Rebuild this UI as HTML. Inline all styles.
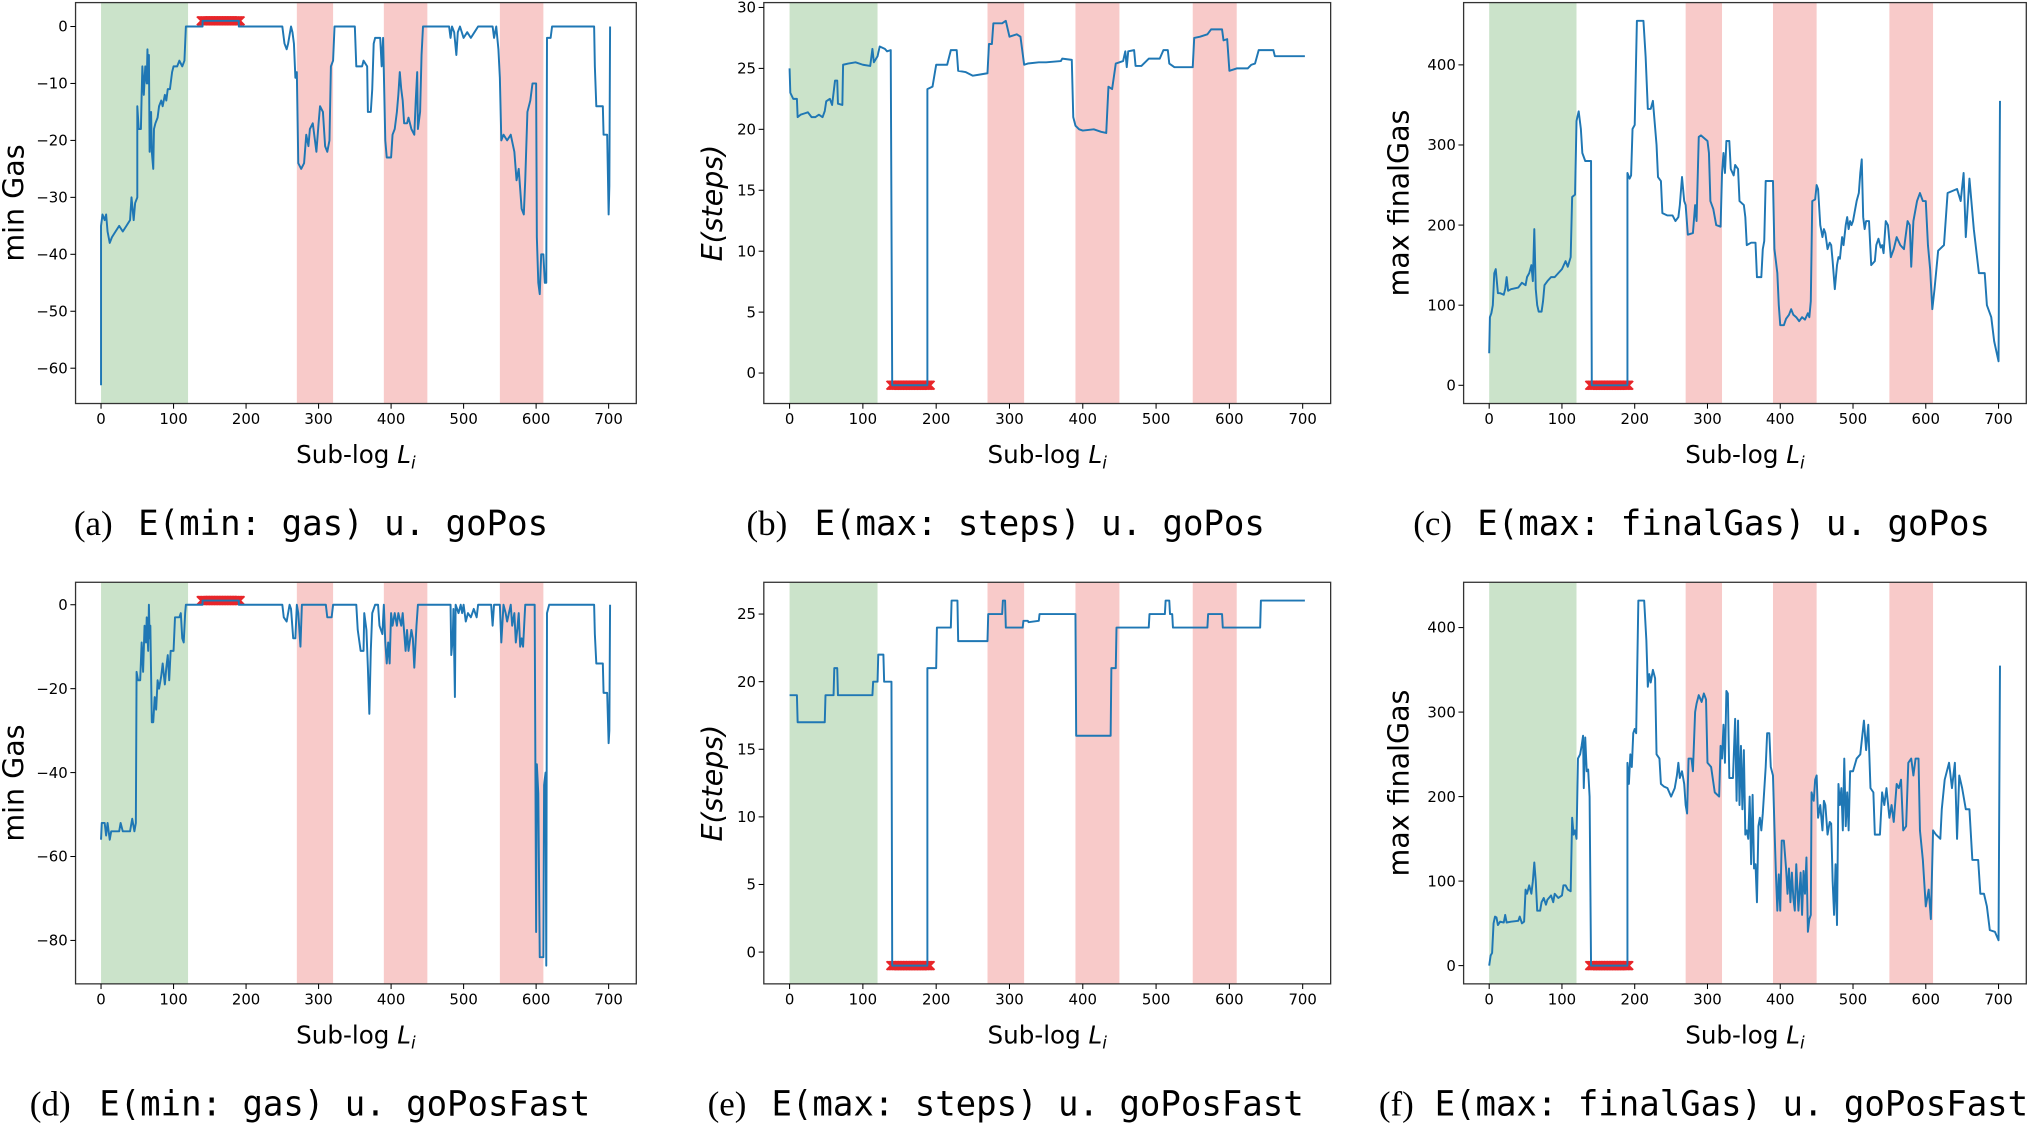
<!DOCTYPE html>
<html>
<head>
<meta charset="utf-8">
<style>
html,body{margin:0;padding:0;background:#fff;}
svg{display:block;}
.tick{font-family:"DejaVu Sans","Liberation Sans",sans-serif;font-size:11.5px;fill:#000;}
.axlab{font-family:"DejaVu Sans","Liberation Sans",sans-serif;font-size:19px;fill:#000;}
.ylab{font-family:"DejaVu Sans","Liberation Sans",sans-serif;font-size:22px;fill:#000;}
.capser{font-family:"Liberation Serif","DejaVu Serif",serif;font-size:27px;fill:#000;}
.capmono{font-family:"DejaVu Sans Mono","Liberation Mono",monospace;font-size:27px;fill:#000;}
</style>
</head>
<body>
<svg id="fig" width="2032" height="1127" viewBox="0 0 1568 870" preserveAspectRatio="none" xmlns="http://www.w3.org/2000/svg"></svg>
<script>
// ---------- data ----------
const xTicks = [0,100,200,300,400,500,600,700];
const greenSpan = [0,120];
const redSpans = [[270,320],[390,450],[550,610]];
const failRange = [140,190];

const minGasGoPos = [[0,-63],[0,-35],[2,-33],[5,-34],[7,-33],[9,-36],[12,-38],[15,-37],[20,-36],[25,-35],[30,-36],[35,-35],[40,-34],[42,-30],[45,-34],[47,-31],[50,-30],[50,-14],[52,-18],[55,-18],[56,-12],[57,-7],[59,-12],[61,-7],[63,-10],[64,-4],[65,-10],[66,-5],[67,-22],[69,-15],[70,-22],[72,-25],[73,-18],[75,-17],[78,-16],[80,-14],[83,-13],[85,-14],[88,-12],[90,-13],[92,-11],[95,-11],[98,-8],[100,-7],[105,-7],[108,-6],[112,-7],[115,-6],[117,0],[140,0],[140,1],[190,1],[190,0],[250,0],[253,-3],[256,-4],[258,-3],[262,0],[264,-1],[266,-3],[268,-9],[270,-8],[272,-24],[276,-25],[280,-24],[283,-19],[286,-21],[288,-18],[292,-17],[295,-20],[297,-22],[300,-17],[302,-14],[306,-15],[309,-21],[312,-22],[315,-20],[317,-7],[320,-6],[322,0],[350,0],[352,-7],[360,-7],[362,-6],[367,-7],[368,-15],[372,-15],[374,-11],[376,-3],[378,-2],[385,-2],[387,-7],[389,-2],[392,-20],[394,-23],[400,-23],[402,-19],[405,-18],[408,-15],[410,-12],[412,-8],[414,-11],[416,-13],[418,-17],[422,-17],[424,-16],[428,-18],[432,-19],[434,-13],[436,-8],[437,-18],[440,-15],[442,-5],[444,0],[480,0],[482,-2],[484,0],[487,-1],[490,-5],[492,-1],[495,0],[500,-2],[505,-1],[510,-2],[515,-1],[520,0],[540,0],[542,-2],[545,0],[548,-4],[550,-9],[552,-20],[555,-19],[560,-20],[565,-19],[570,-22],[573,-27],[576,-25],[580,-32],[583,-33],[585,-27],[588,-15],[592,-13],[595,-10],[600,-10],[601,-37],[603,-45],[605,-47],[607,-40],[610,-40],[612,-45],[614,-45],[615,-2],[620,-2],[622,0],[680,0],[681,-7],[683,-14],[692,-14],[693,-19],[698,-19],[700,-33],[701,-28],[702,0]];

const stepsGoPos = [[0,25],[1,23],[5,22.5],[10,22.5],[11,21],[15,21.2],[20,21.3],[25,21.4],[30,21],[35,21],[40,21.2],[45,21],[48,21.5],[50,22.3],[55,22.5],[58,22],[62,24],[65,24],[66,22.1],[72,22],[73,25.3],[80,25.4],[90,25.5],[100,25.3],[110,25.2],[113,26.6],[115,25.5],[120,26],[123,26.8],[130,26.6],[133,26.4],[138,26.5],[140,-1],[188,-1],[188,23.3],[195,23.5],[200,25.3],[215,25.3],[220,26.5],[228,26.5],[230,24.8],[240,24.7],[250,24.4],[260,24.5],[270,24.6],[272,27],[276,27],[278,28.7],[290,28.7],[295,28.9],[300,27.6],[310,27.8],[315,27.6],[320,25.3],[325,25.4],[340,25.5],[350,25.5],[370,25.6],[372,25.8],[385,25.7],[387,21],[390,20.3],[395,20],[400,19.9],[415,20],[425,19.8],[432,19.7],[435,23.5],[440,23.3],[445,25.4],[455,25.6],[458,26.4],[460,25.1],[462,26.4],[470,26.5],[472,25.2],[480,25.2],[490,25.8],[505,25.8],[510,26.5],[516,26.5],[518,25.4],[525,25.1],[550,25.1],[552,27.5],[560,27.6],[570,27.8],[575,28.2],[590,28.2],[592,27.3],[597,27.4],[600,24.8],[610,25],[625,25],[630,25.3],[635,25.4],[640,26.5],[660,26.5],[662,26],[703,26]];

const finalGasGoPos = [[0,40],[1,85],[3,90],[5,100],[7,140],[9,145],[12,115],[15,115],[20,113],[22,120],[24,135],[26,118],[30,120],[40,122],[45,128],[50,125],[52,135],[55,140],[58,150],[60,130],[62,195],[64,120],[66,100],[68,92],[72,92],[74,105],[76,125],[80,130],[85,135],[90,135],[95,140],[100,145],[105,155],[108,148],[112,160],[114,235],[118,238],[120,330],[123,342],[126,320],[128,290],[132,280],[140,280],[141,0],[190,0],[190,265],[193,258],[195,262],[197,320],[200,325],[203,455],[212,455],[215,410],[218,345],[222,345],[225,355],[230,300],[232,260],[236,255],[238,215],[245,212],[252,212],[256,205],[260,210],[262,225],[265,260],[268,230],[270,225],[273,188],[280,190],[283,225],[285,205],[288,310],[291,312],[300,305],[302,290],[304,230],[308,220],[312,200],[318,198],[320,265],[322,290],[324,265],[326,305],[330,305],[332,270],[336,262],[338,275],[342,270],[344,230],[350,225],[352,210],[354,175],[360,178],[366,178],[368,135],[374,135],[376,170],[378,180],[380,255],[385,255],[390,255],[392,170],[396,140],[398,100],[400,75],[405,75],[408,83],[412,88],[415,95],[418,88],[422,85],[426,80],[430,85],[434,82],[438,90],[440,85],[442,105],[444,230],[448,232],[450,250],[452,245],[455,200],[458,185],[460,195],[462,190],[465,170],[468,178],[470,175],[472,155],[475,120],[478,150],[480,160],[482,158],[485,185],[487,175],[490,200],[492,210],[494,195],[496,205],[498,200],[500,205],[502,215],[505,230],[508,240],[510,265],[512,282],[514,210],[516,195],[518,205],[522,205],[525,150],[530,155],[532,175],[535,183],[538,172],[540,175],[542,165],[545,205],[548,200],[552,160],[556,170],[560,185],[565,175],[570,170],[575,205],[578,200],[580,148],[583,205],[588,230],[592,240],[596,230],[600,230],[603,175],[606,145],[609,95],[612,120],[617,168],[625,175],[630,240],[643,245],[648,230],[652,265],[655,185],[660,258],[666,195],[673,140],[681,140],[684,100],[690,85],[694,55],[700,30],[702,355]];

const minGasGoPosFast = [[0,-56],[1,-52],[5,-52],[7,-55],[9,-52],[12,-56],[14,-54],[20,-54],[25,-54],[27,-52],[30,-54],[40,-54],[43,-51],[46,-54],[48,-52],[49,-16],[51,-18],[54,-18],[56,-9],[58,-16],[60,-5],[62,-9],[63,-3],[65,-11],[66,0],[67,-8],[68,-5],[70,-28],[72,-28],[74,-22],[76,-25],[78,-18],[80,-20],[83,-17],[85,-14],[88,-19],[90,-15],[92,-12],[94,-18],[96,-11],[100,-11],[102,-3],[108,-3],[110,-2],[112,-8],[114,-9],[116,-2],[117,0],[140,0],[140,1],[190,1],[190,0],[250,0],[252,-3],[256,-4],[260,0],[262,-1],[265,-8],[268,-8],[270,0],[272,-2],[275,-10],[277,0],[310,0],[312,-3],[318,-3],[320,0],[352,0],[354,-6],[358,-11],[362,-11],[363,-2],[366,-6],[368,-15],[370,-26],[372,-11],[374,-2],[378,0],[382,0],[384,-5],[388,-7],[390,0],[392,-9],[394,-14],[396,-9],[398,-14],[400,-2],[402,-5],[405,-2],[408,-5],[410,-2],[414,-5],[416,-2],[420,-11],[422,-6],[424,-11],[428,-6],[430,-8],[432,-15],[435,-5],[437,0],[440,0],[482,0],[483,-12],[485,-8],[486,-1],[488,-22],[489,0],[493,-2],[496,0],[498,-2],[500,0],[503,-4],[506,-2],[510,-3],[514,-1],[518,-3],[520,0],[538,0],[540,-5],[542,0],[550,0],[552,-9],[555,0],[558,-2],[560,-4],[565,0],[567,-5],[570,-2],[572,-9],[574,-6],[576,-2],[578,-10],[580,-8],[582,-10],[585,0],[598,0],[600,-78],[601,-38],[603,-45],[605,-84],[610,-84],[611,-43],[613,-40],[614,-86],[615,-2],[618,0],[680,0],[681,-7],[683,-14],[692,-14],[693,-21],[698,-21],[700,-33],[701,-30],[702,0]];

const stepsGoPosFast = [[0,19],[10,19],[11,17],[48,17],[49,19],[60,19],[61,21],[65,21],[66,19],[113,19],[114,20],[120,20],[121,22],[128,22],[129,20],[139,20],[140,-1],[188,-1],[188,21],[200,21],[201,24],[220,24],[221,26],[229,26],[230,23],[270,23],[271,25],[290,25],[291,26],[294,26],[295,24],[303,24],[318,24],[319,24.5],[325,24.5],[326,24.4],[340,24.5],[341,25],[390,25],[391,16],[438,16],[439,21],[445,21],[446,24],[490,24],[491,25],[512,25],[513,26],[518,26],[519,25],[522,25],[523,24],[570,24],[571,25],[590,25],[591,24],[642,24],[643,26],[703,26]];

const finalGasGoPosFast = [[0,0],[2,12],[4,15],[6,50],[8,58],[10,57],[12,48],[15,52],[20,51],[22,60],[24,51],[30,52],[40,53],[42,58],[45,50],[48,52],[50,90],[52,85],[55,95],[58,85],[60,100],[62,122],[64,100],[66,65],[70,65],[72,75],[75,80],[78,72],[80,78],[85,83],[88,75],[90,85],[95,80],[100,83],[102,95],[105,95],[108,90],[112,88],[114,175],[116,155],[118,160],[120,150],[122,245],[125,250],[127,260],[129,272],[130,210],[132,270],[134,230],[136,232],[138,200],[140,0],[190,0],[190,240],[192,215],[194,250],[196,235],[198,275],[200,280],[202,275],[205,432],[213,432],[216,385],[218,330],[220,345],[222,335],[225,350],[228,340],[230,250],[234,245],[236,215],[240,212],[245,210],[250,200],[255,210],[258,225],[260,240],[262,222],[265,230],[268,215],[270,190],[272,180],[274,245],[278,245],[280,230],[283,300],[285,310],[288,320],[292,312],[295,322],[298,315],[300,240],[305,235],[310,205],[316,200],[318,260],[320,245],[322,285],[324,240],[326,325],[328,322],[330,222],[335,222],[338,292],[340,195],[342,290],[344,190],[346,260],[348,185],[350,255],[352,155],[354,160],[356,150],[358,200],[360,120],[362,202],[364,115],[366,120],[368,75],[370,165],[372,175],[374,160],[376,180],[380,235],[382,275],[385,275],[387,235],[390,225],[392,165],[394,110],[396,65],[398,108],[400,65],[402,148],[405,148],[408,115],[410,85],[412,115],[414,75],[416,110],[418,80],[420,65],[422,120],[425,65],[428,110],[430,60],[432,112],[434,85],[436,128],[438,40],[440,55],[442,60],[443,205],[446,195],[448,220],[450,225],[452,175],[455,190],[458,160],[460,195],[462,190],[465,155],[468,170],[470,168],[472,100],[474,60],[476,120],[478,48],[480,215],[482,190],[484,210],[486,160],[488,245],[490,165],[492,205],[494,160],[496,230],[500,230],[505,245],[510,250],[515,290],[518,255],[521,285],[524,210],[528,205],[530,155],[537,155],[540,205],[543,190],[546,210],[550,175],[553,190],[556,170],[560,215],[563,210],[566,220],[569,160],[573,165],[576,240],[580,245],[583,225],[586,245],[590,245],[592,160],[596,125],[600,70],[604,90],[607,55],[610,160],[614,155],[620,150],[622,185],[626,220],[632,240],[636,210],[640,240],[643,150],[646,225],[650,210],[655,185],[660,185],[664,125],[672,125],[675,85],[680,85],[684,70],[688,42],[695,40],[700,30],[702,355]];

const yTicksA = [0,-10,-20,-30,-40,-50,-60];
const yTicksB = [0,5,10,15,20,25,30];
const yTicksC = [0,100,200,300,400];
const yTicksD = [0,-20,-40,-60,-80];
const yTicksE = [0,5,10,15,20,25];
const yTicksF = [0,100,200,300,400];
const failValueA = 1, failValueB = -1, failValueC = 0, failValueD = 1, failValueE = -1, failValueF = 0;

// ---------- drawing ----------
const NS = "http://www.w3.org/2000/svg";
const svg = document.getElementById('fig');
function mk(tag, attrs, parent){
  const e = document.createElementNS(NS, tag);
  for (const k in attrs) e.setAttribute(k, attrs[k]);
  (parent||svg).appendChild(e);
  return e;
}
const XLIM = [-35.15, 738.15];

const panels = [
  {key:'a', L:58.3, R:491, T:2, B:311.5, ylim:[-66.2,4.2], data:minGasGoPos, yt:yTicksA, fail:failValueA, ylab:'min Gas', italic:false, ylx:18,
   paren:'(a)', px:57, mono:'E(min: gas) u. goPos', mx:106.6, mw:316.4, cy:413},
  {key:'b', L:589.4, R:1026.8, T:2, B:311.5, ylim:[-2.5,30.4], data:stepsGoPos, yt:yTicksB, fail:failValueB, ylab:'E(steps)', italic:true, ylx:557,
   paren:'(b)', px:576, mono:'E(max: steps) u. goPos', mx:628.6, mw:347.4, cy:413},
  {key:'c', L:1129.4, R:1563.6, T:2, B:311.5, ylim:[-22.75,477.75], data:finalGasGoPos, yt:yTicksC, fail:failValueC, ylab:'max finalGas', italic:false, ylx:1087,
   paren:'(c)', px:1090.5, mono:'E(max: finalGas) u. goPos', mx:1139.9, mw:395.7, cy:413},
  {key:'d', L:58.3, R:491, T:449.5, B:759.5, ylim:[-90.35,5.35], data:minGasGoPosFast, yt:yTicksD, fail:failValueD, ylab:'min Gas', italic:false, ylx:18,
   paren:'(d)', px:23, mono:'E(min: gas) u. goPosFast', mx:76.6, mw:378.9, cy:861},
  {key:'e', L:589.4, R:1026.8, T:449.5, B:759.5, ylim:[-2.35,27.35], data:stepsGoPosFast, yt:yTicksE, fail:failValueE, ylab:'E(steps)', italic:true, ylx:557,
   paren:'(e)', px:546, mono:'E(max: steps) u. goPosFast', mx:595.3, mw:410.7, cy:861},
  {key:'f', L:1129.4, R:1563.6, T:449.5, B:759.5, ylim:[-21.6,453.6], data:finalGasGoPosFast, yt:yTicksF, fail:failValueF, ylab:'max finalGas', italic:false, ylx:1087,
   paren:'(f)', px:1064, mono:'E(max: finalGas) u. goPosFast', mx:1107, mw:458, cy:861}
];

panels.forEach(p => {
  const g = mk('g', {});
  
  
  const xs = v => p.L + (v - XLIM[0]) / (XLIM[1] - XLIM[0]) * (p.R - p.L);
  const ys = v => p.B - (v - p.ylim[0]) / (p.ylim[1] - p.ylim[0]) * (p.B - p.T);

  const gs = mk('rect', {x:xs(greenSpan[0]), y:p.T, width:xs(greenSpan[1])-xs(greenSpan[0]), height:p.B-p.T, fill:'#cbe3ca'}, g);
  
  
  redSpans.forEach(s => {
    const r = mk('rect', {x:xs(s[0]), y:p.T, width:xs(s[1])-xs(s[0]), height:p.B-p.T, fill:'#f8cac9'}, g);
    
    
  });

  const mg = mk('g', {stroke:'#e8262a', 'stroke-width':1.3}, g);
  
  
  for (let v = failRange[0] - 2; v <= failRange[1] + 2; v += 1) {
    const cx = xs(v), cy = ys(p.fail), s = 3.3;
    const m = mk('path', {d:`M${cx-s},${cy-s}L${cx+s},${cy+s}M${cx-s},${cy+s}L${cx+s},${cy-s}`}, mg);
    
    
  }

  const d = p.data.map((pt, i) => (i ? 'L' : 'M') + xs(pt[0]).toFixed(2) + ',' + ys(pt[1]).toFixed(2)).join('');
  const line = mk('path', {d:d, fill:'none', stroke:'#1f77b4', 'stroke-width':1.5, 'stroke-linejoin':'round'}, g);
  
  

  const frame = mk('rect', {x:p.L, y:p.T, width:p.R-p.L, height:p.B-p.T, fill:'none', stroke:'#333', 'stroke-width':1}, g);
  
  

  xTicks.forEach(t => {
    const x = xs(t);
    const tk = mk('line', {x1:x, x2:x, y1:p.B, y2:p.B+4, stroke:'#000', 'stroke-width':0.8}, g);
    
    
    const tl = mk('text', {x:x, y:p.B+16, 'text-anchor':'middle', class:'tick'}, g);
    tl.textContent = String(t);
    
    
  });
  p.yt.forEach(t => {
    const y = ys(t);
    const tk = mk('line', {x1:p.L-4, x2:p.L, y1:y, y2:y, stroke:'#000', 'stroke-width':0.8}, g);
    
    
    const tl = mk('text', {x:p.L-6, y:y+4, 'text-anchor':'end', class:'tick'}, g);
    tl.textContent = t < 0 ? '\u2212' + Math.abs(t) : String(t);
    
    
  });

  const xl = mk('text', {x:(p.L+p.R)/2, y:p.B+46, 'text-anchor':'middle', class:'axlab'}, g);
  
  
  const t1 = mk('tspan', {}, xl); t1.textContent = 'Sub-log ';
  const t2 = mk('tspan', {'font-style':'italic'}, xl); t2.textContent = 'L';
  const t3 = mk('tspan', {'font-style':'italic', 'font-size':'13px', dy:'4'}, xl); t3.textContent = 'i';

  const cyy = (p.T + p.B) / 2;
  const yl = mk('text', {x:p.ylx, y:cyy, 'text-anchor':'middle', class:'ylab', transform:`rotate(-90 ${p.ylx} ${cyy})`}, g);
  if (p.italic) yl.setAttribute('font-style', 'italic');
  yl.textContent = p.ylab;
  
  

  const c1 = mk('text', {x:p.px, y:p.cy, class:'capser'}, g);
  c1.textContent = p.paren;
  
  
  const c2 = mk('text', {x:p.mx, y:p.cy, class:'capmono', textLength:p.mw, lengthAdjust:'spacingAndGlyphs'}, g);
  c2.textContent = p.mono;
  
  
});
</script>
</body>
</html>
